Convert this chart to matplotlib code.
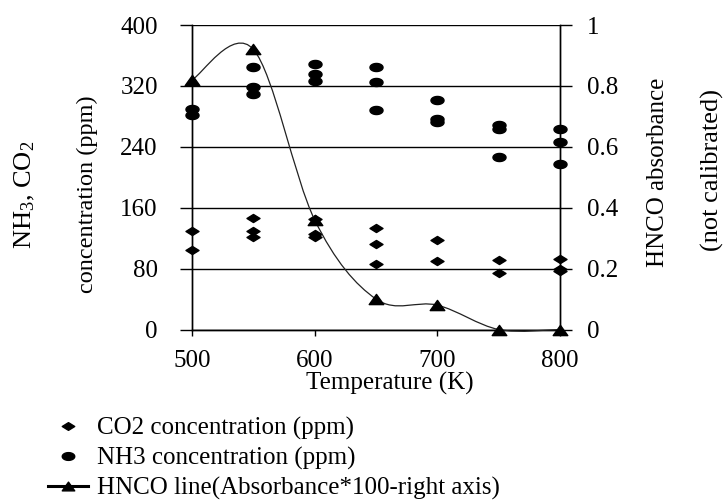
import numpy as np
import matplotlib
matplotlib.use("Agg")
import matplotlib.pyplot as plt
from matplotlib.path import Path
from matplotlib.patches import PathPatch
from matplotlib.lines import Line2D

plt.rcParams['font.family'] = ['Liberation Serif', 'DejaVu Serif']
plt.rcParams['mathtext.fontset'] = 'custom'
plt.rcParams['mathtext.rm'] = 'Liberation Serif'
plt.rcParams['mathtext.it'] = 'Liberation Serif:italic'
plt.rcParams['mathtext.default'] = 'regular'

# ---- data ----
temps = [500, 550, 600, 650, 700, 750, 800]
hnco_abs = [0.82, 0.92, 0.36, 0.10, 0.08, 0.0, 0.0]

co2_T = [500, 500, 550, 550, 550, 600, 600, 600, 650, 650, 650, 700, 700, 750, 750, 800, 800, 800]
co2_ppm = [129, 104, 147, 129, 122, 145, 126, 121, 133, 112, 86, 117, 90, 91, 74, 92, 80, 77]

nh3_T = [500, 500, 550, 550, 550, 600, 600, 600, 650, 650, 650, 700, 700, 700, 750, 750, 750, 800, 800, 800]
nh3_ppm = [289, 282, 345, 318, 310, 349, 336, 327, 345, 325, 288, 301, 276, 272, 268, 263, 227, 264, 246, 217]

left_ticks = [0, 80, 160, 240, 320, 400]
right_ticks = [0, 0.2, 0.4, 0.6, 0.8, 1.0]
right_labels = ['0', '0.2', '0.4', '0.6', '0.8', '1']
x_ticks = [500, 600, 700, 800]

# ---- marker shapes ----
th = np.linspace(0, 2 * np.pi, 40)
ellipse = Path(np.column_stack([np.cos(th), 0.62 * np.sin(th)]), closed=True)
diamond = Path([(1, 0), (0, 0.62), (-1, 0), (0, -0.62), (1, 0)], closed=True)
triangle = Path([(-1, -0.7), (1, -0.7), (0, 0.7), (-1, -0.7)], closed=True)

W, H = 728, 500
fig = plt.figure(figsize=(W / 100, H / 100), dpi=100)
x0, x1, ytop, ybot = 192, 560, 25, 329.5
ax = fig.add_axes([x0 / W, 1 - ybot / H, (x1 - x0) / W, (ybot - ytop) / H])
ax2 = ax.twinx()

FS = 18
lw = 1.0

ax.set_xlim(500, 800)
ax.set_ylim(0, 400)
ax2.set_ylim(0, 1)

ax.set_yticks(left_ticks)
ax.set_xticks(x_ticks)
ax2.set_yticks(right_ticks)
ax2.set_yticklabels(right_labels)

ax.yaxis.grid(True, color='black', lw=lw)
ax.set_axisbelow(True)
for a in (ax, ax2):
    for s in a.spines.values():
        s.set_linewidth(lw)
        s.set_color('black')
    a.spines['top'].set_visible(False)

ax.tick_params(axis='y', direction='out', length=8.6, width=lw, pad=16, labelsize=FS)
ax.tick_params(axis='x', direction='out', length=4.5, width=lw, pad=10, labelsize=FS)
ax2.tick_params(axis='y', direction='out', length=8.6, width=lw, pad=11, labelsize=FS)

# scatter points
ax.plot(co2_T, co2_ppm, linestyle='none', marker=diamond, markersize=9.4,
        color='black', clip_on=False, zorder=3)
ax.plot(nh3_T, nh3_ppm, linestyle='none', marker=ellipse, markersize=9.4,
        color='black', clip_on=False, zorder=3)

# smoothed HNCO line (Bezier through the data points)
pts = list(zip(temps, hnco_abs))
verts = [pts[0]]
codes = [Path.MOVETO]
n = len(pts)
for i in range(n - 1):
    p_prev = pts[i - 1] if i > 0 else pts[i]
    p0 = pts[i]
    p1 = pts[i + 1]
    p_next = pts[i + 2] if i + 2 < n else pts[i + 1]
    c1 = (p0[0] + (p1[0] - p_prev[0]) / 6, p0[1] + (p1[1] - p_prev[1]) / 6)
    c2 = (p1[0] - (p_next[0] - p0[0]) / 6, p1[1] - (p_next[1] - p0[1]) / 6)
    verts += [c1, c2, p1]
    codes += [Path.CURVE4] * 3
curve = PathPatch(Path(verts, codes), facecolor='none', edgecolor='#222222',
                  lw=0.9, clip_on=False, zorder=3)
ax2.add_patch(curve)
ax2.plot(temps, hnco_abs, linestyle='none', marker=triangle, markersize=10.5,
         color='black', clip_on=False, zorder=4)

# labels
ax.set_xlabel('Temperature (K)', fontsize=FS)
ax.xaxis.set_label_coords((390 - x0) / (x1 - x0), (ybot - 383) / (ybot - ytop))
ax.xaxis.label.set_va('center')

fig.text(25 / W, 1 - 195 / H, 'NH$_3$, CO$_2$', rotation=90, fontsize=19,
         ha='center', va='center')
fig.text(87 / W, 1 - 194 / H, 'concentration (ppm)', rotation=90, fontsize=17.5,
         ha='center', va='center')
fig.text(658 / W, 1 - 172 / H, 'HNCO absorbance', rotation=90, fontsize=18,
         ha='center', va='center')
fig.text(712 / W, 1 - 170 / H, '(not calibrated)', rotation=90, fontsize=19,
         ha='center', va='center')

# legend
handles = [
    Line2D([], [], linestyle='none', marker=diamond, markersize=9, color='black'),
    Line2D([], [], linestyle='none', marker=ellipse, markersize=9, color='black'),
    Line2D([], [], color='black', lw=2.2, marker=triangle, markersize=9),
]
labels = ['CO2 concentration (ppm)', 'NH3 concentration (ppm)',
          'HNCO line(Absorbance*100-right axis)']
fig.legend(handles, labels, loc='upper left', bbox_to_anchor=(48 / W, 1 - 417 / H),
           frameon=False, fontsize=FS, borderpad=0, borderaxespad=0,
           handlelength=1.6, handletextpad=0.35, labelspacing=0.28)

fig.savefig('out.png', dpi=100)
